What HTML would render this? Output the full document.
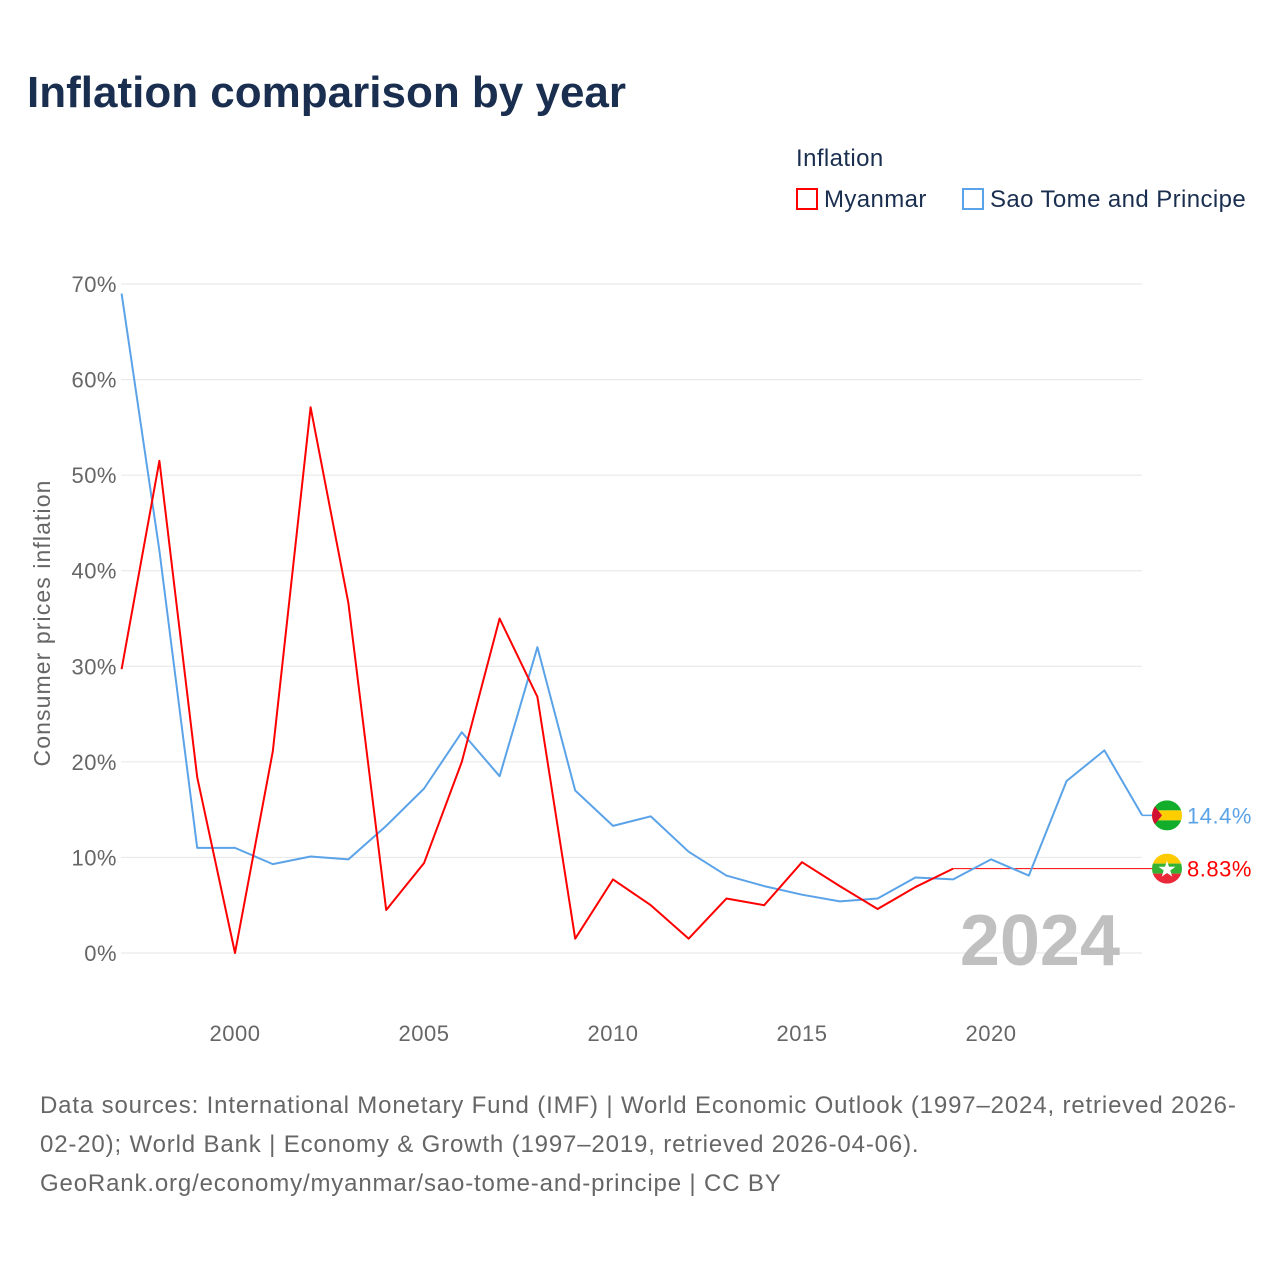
<!DOCTYPE html>
<html><head><meta charset="utf-8"><style>
body{margin:0;background:#fff;font-family:"Liberation Sans",sans-serif;}
#wrap{position:relative;width:1280px;height:1280px;overflow:hidden;}
.t{position:absolute;white-space:nowrap;}
</style></head><body>
<div id="wrap">
<div class="t" style="left:27px;top:68px;font-size:44px;font-weight:bold;color:#1a2e4f;">Inflation comparison by year</div>
<div class="t" style="left:796px;top:145px;font-size:24px;color:#1a2e4f;letter-spacing:0.4px;">Inflation</div>
<div class="t" style="left:796px;top:186px;font-size:24px;color:#1a2e4f;letter-spacing:0.4px;"><span style="display:inline-block;width:22px;height:22px;border:2px solid #f00;box-sizing:border-box;vertical-align:-3px;margin-right:6px;"></span>Myanmar</div>
<div class="t" style="left:962px;top:186px;font-size:24px;color:#1a2e4f;letter-spacing:0.4px;"><span style="display:inline-block;width:22px;height:22px;border:2px solid #5ba3e8;box-sizing:border-box;vertical-align:-3px;margin-right:6px;"></span>Sao Tome and Principe</div>
<svg id="chart" width="1280" height="1280" style="position:absolute;left:0;top:0"></svg>
<div class="t" style="left:40px;top:1086px;font-size:24px;line-height:39px;color:#666;letter-spacing:0.85px;">Data sources: International Monetary Fund (IMF) | World Economic Outlook (1997–2024, retrieved 2026-<br>02-20); World Bank | Economy &amp; Growth (1997–2019, retrieved 2026-04-06).<br>GeoRank.org/economy/myanmar/sao-tome-and-principe | CC BY</div>
</div>
<script>
const years=[1997,1998,1999,2000,2001,2002,2003,2004,2005,2006,2007,2008,2009,2010,2011,2012,2013,2014,2015,2016,2017,2018,2019,2020,2021,2022,2023,2024];
const myanmar=[29.7,51.5,18.4,0,21.1,57.1,36.6,4.5,9.4,20.0,35.0,26.8,1.5,7.7,5.0,1.5,5.7,5.0,9.5,7.0,4.6,6.9,8.83];
const stp=[69.0,42.1,11.0,11.0,9.3,10.1,9.8,13.3,17.2,23.1,18.5,32.0,17.0,13.3,14.3,10.6,8.1,7.0,6.1,5.4,5.7,7.9,7.7,9.8,8.1,18.0,21.2,14.4];
const yTicks=[0,10,20,30,40,50,60,70];
const xTicks=[2000,2005,2010,2015,2020];
const NS='http://www.w3.org/2000/svg';
const svg=document.getElementById('chart');
const X=y=>121.6+(y-1997)*37.8;
const Y=v=>953-v*9.557;
function mk(t,a){const e=document.createElementNS(NS,t);for(const k in a)e.setAttribute(k,a[k]);svg.appendChild(e);return e;}
yTicks.forEach(v=>{
 const l=mk('line',{x1:121,x2:1142,y1:Y(v),y2:Y(v),stroke:'#e6e6e6','stroke-width':1});
 
 
 const t=mk('text',{x:117,y:Y(v)+8,'text-anchor':'end','font-size':22,fill:'#666','font-family':'Liberation Sans','letter-spacing':0.5});
 t.textContent=v+'%';
 
 
});
xTicks.forEach(v=>{
 const t=mk('text',{x:X(v),y:1041,'text-anchor':'middle','font-size':22,fill:'#666','font-family':'Liberation Sans','letter-spacing':0.5});
 t.textContent=v;
 
 
});
const yt=mk('text',{x:0,y:0,transform:'translate(50,623) rotate(-90)','text-anchor':'middle','font-size':23,fill:'#666','font-family':'Liberation Sans','letter-spacing':1.1});
yt.textContent='Consumer prices inflation';


const yr=mk('text',{x:1120,y:965,'text-anchor':'end','font-size':72,'font-weight':'bold',fill:'#c0c0c0','font-family':'Liberation Sans'});
yr.textContent='2024';


const last=myanmar[myanmar.length-1];
const ext=mk('line',{x1:X(years[myanmar.length-1]),x2:1155,y1:Y(last),y2:Y(last),stroke:'#f00','stroke-width':1});


const sl=stp[stp.length-1];
const ext2=mk('line',{x1:X(2024),x2:1155,y1:Y(sl),y2:Y(sl),stroke:'#5ba3e8','stroke-width':1.5});


function line(d,c,n){
 const p=mk('polyline',{points:d.map((v,i)=>X(years[i])+','+Y(v)).join(' '),fill:'none',stroke:c,'stroke-width':2,'stroke-linejoin':'round'});
 
 
}
line(stp,'#5ba3e8','line-sao-tome');
line(myanmar,'#f00','line-myanmar');
function flag(cy,n,kind){
 const g=mk('g',{});
 
 
 const id='c'+kind;
 const cp=document.createElementNS(NS,'clipPath');cp.setAttribute('id',id);
 const cc=document.createElementNS(NS,'circle');cc.setAttribute('cx',1167);cc.setAttribute('cy',cy);cc.setAttribute('r',15);cp.appendChild(cc);g.appendChild(cp);
 function r(y,h,c){const e=document.createElementNS(NS,'rect');e.setAttribute('x',1150);e.setAttribute('y',y);e.setAttribute('width',34);e.setAttribute('height',h);e.setAttribute('fill',c);e.setAttribute('clip-path','url(#'+id+')');g.appendChild(e);}
 if(kind==='stp'){r(cy-15,10,'#12ad2b');r(cy-5,10,'#ffce00');r(cy+5,10,'#12ad2b');
  const tri=document.createElementNS(NS,'polygon');tri.setAttribute('points',`1150,${cy-15} 1162,${cy} 1150,${cy+15}`);tri.setAttribute('fill','#d21034');tri.setAttribute('clip-path','url(#'+id+')');g.appendChild(tri);}
 else{r(cy-15,10,'#fecb00');r(cy-5,10,'#34b233');r(cy+5,10,'#ea2839');
  const s=document.createElementNS(NS,'text');s.setAttribute('x',1167);s.setAttribute('y',cy+8);s.setAttribute('text-anchor','middle');s.setAttribute('font-size',22);s.setAttribute('fill','#fff');s.textContent='★';g.appendChild(s);}
 svg.appendChild(g);
}
flag(Y(sl),'flag-sao-tome','stp');
flag(Y(last),'flag-myanmar','mm');
const l1=mk('text',{x:1187,y:Y(sl)+8,'font-size':22,fill:'#5ba3e8','font-family':'Liberation Sans','letter-spacing':0.5});
l1.textContent=sl+'%';


const l2=mk('text',{x:1187,y:Y(last)+8,'font-size':22,fill:'#f00','font-family':'Liberation Sans','letter-spacing':0.5});
l2.textContent=last+'%';


</script>
</body></html>
